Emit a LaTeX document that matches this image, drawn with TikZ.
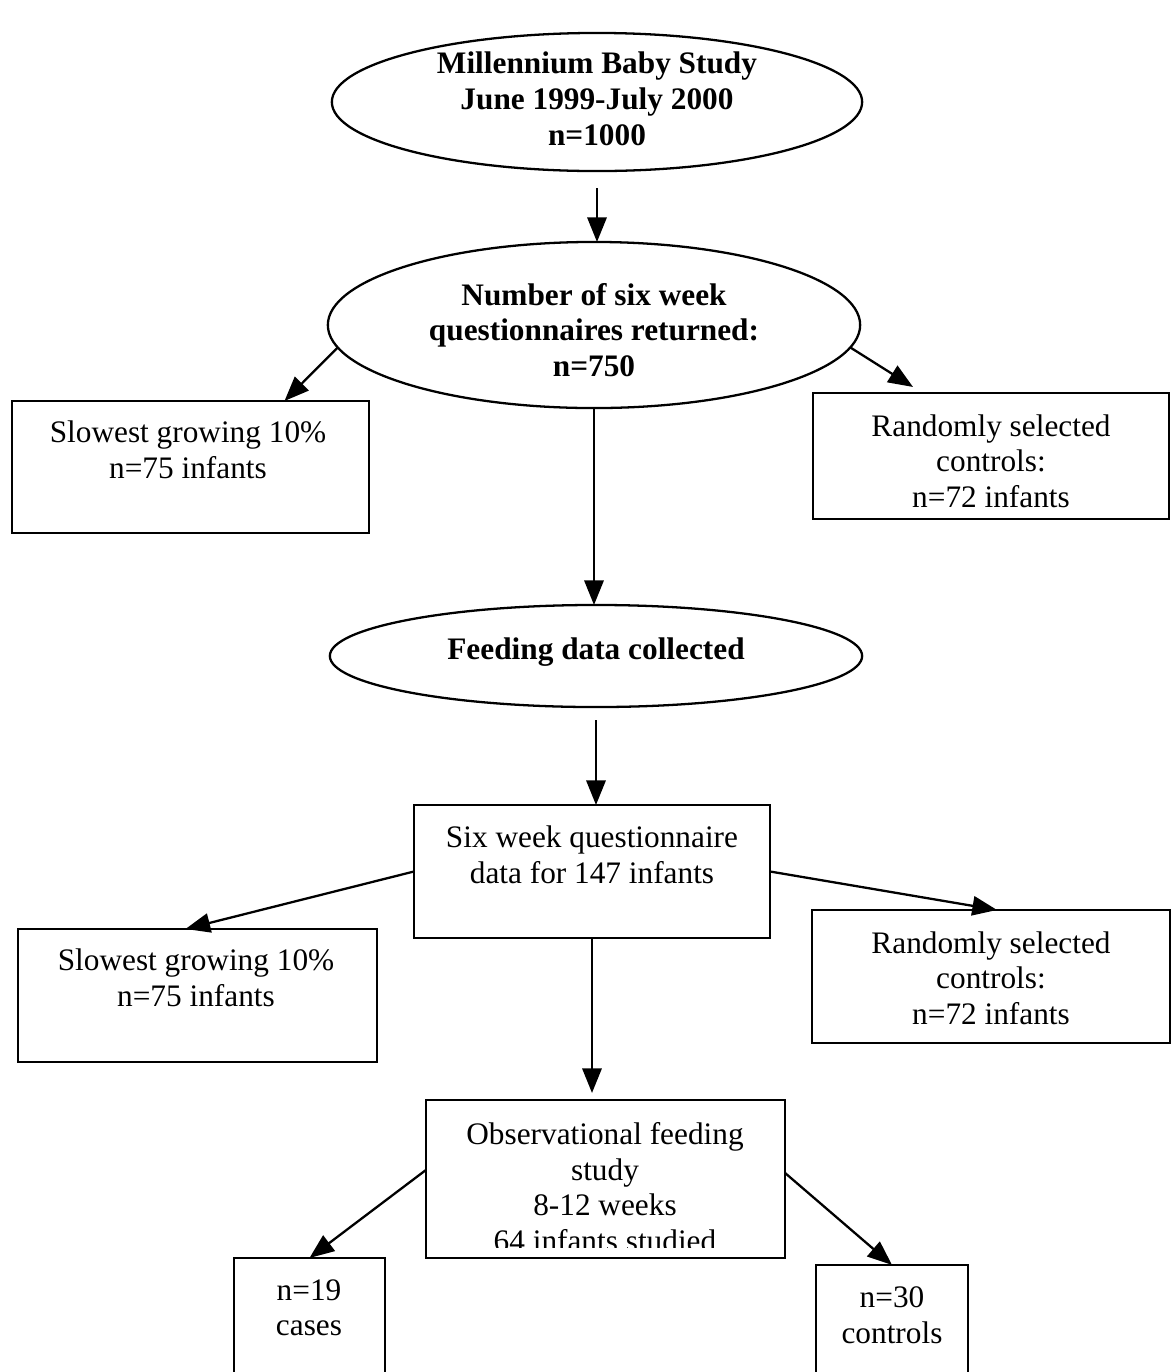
\documentclass[tikz,border=0pt]{standalone}
\usepackage{fontspec}
\setmainfont{Liberation Serif}
\usetikzlibrary{shapes.geometric,arrows.meta,calc}

\begin{document}
\begin{tikzpicture}
				[x=0.01cm,y=-0.01cm,
				every node/.style={inner sep=0pt, outer sep=0pt},
				oval/.style={ellipse, draw=black, line width=0.65pt},
				box/.style={rectangle, draw=black, line width=0.65pt},
				txt/.style={align=center, font=\fontsize{8.9}{10.1}\selectfont},
				bold/.style={align=center, font=\fontsize{8.9}{10.2}\selectfont\bfseries},
				arr/.style={-{Triangle[length=7pt,width=5.5pt]}, line width=0.65pt}]
				\useasboundingbox (0,0) rectangle (1172,1372);
				\clip (0,0) rectangle (1172,1372);

				\node[oval, minimum width=5.30cm, minimum height=1.38cm] (millen) at (597,102) {};
				\node[bold] (millentxt) at (597,99) {Millennium Baby Study\\June 1999-July 2000\\n=1000};

				\node[oval, minimum width=5.32cm, minimum height=1.66cm] (survey) at (594,325) {};
				\node[bold] (surveytxt) at (594,330) {Number of six week\\questionnaires returned:\\n=750};

				\node[oval, minimum width=5.32cm, minimum height=1.02cm] (feed) at (596,656) {};
				\node[bold] (feedtxt) at (596,652) {Feeding data collected};

				% first split
				\node[box, minimum width=3.57cm, minimum height=1.32cm] (slowA) at (190.5,467) {};
				\node[txt] (slowAtxt) at (188,450) {Slowest growing 10\%\\n=75 infants};
				\node[box, minimum width=3.56cm, minimum height=1.26cm] (randA) at (991,456) {};
				\node[txt] (randAtxt) at (991,461) {Randomly selected\\controls:\\n=72 infants};

				% second split
				\node[box, minimum width=3.56cm, minimum height=1.33cm] (six) at (592,871.5) {};
				\node[txt] (sixtxt) at (592,855) {Six week questionnaire\\data for 147 infants};
				\node[box, minimum width=3.59cm, minimum height=1.33cm] (slowB) at (197.5,995.5) {};
				\node[txt] (slowBtxt) at (196,978) {Slowest growing 10\%\\n=75 infants};
				\node[box, minimum width=3.58cm, minimum height=1.33cm] (randB) at (991,976.5) {};
				\node[txt] (randBtxt) at (991,978) {Randomly selected\\controls:\\n=72 infants};

				\node[box, minimum width=3.59cm, minimum height=1.58cm] (obs) at (605.5,1179) {};
				\begin{scope}
					\clip (426,1100) rectangle (785,1247); %last line cut off
					\node[txt] (obstxt) at (605,1187) {Observational feeding\\study\\8-12 weeks\\64 infants studied};
				\end{scope}
				\node[box, minimum width=1.51cm, minimum height=2.02cm] (cases) at (309.5,1359) {};
				\node[txt] (casestxt) at (309,1308) {n=19\\cases};
				\node[box, minimum width=1.52cm, minimum height=2.00cm] (ctrl) at (892,1365) {};
				\node[txt] (ctrltxt) at (892,1315) {n=30\\controls};

				\coordinate (slowAin) at ($(slowA.north)+(94,0)$);
				\coordinate (randAin) at ($(randA.north)+(-78,-6)$);
				\coordinate (slowBin) at ($(slowB.north)+(-12,0)$);
				\coordinate (randBin) at ($(randB.north)+(6,0)$);
				\coordinate (obsout1) at ($(obs.west)+(0,-9)$);
				\coordinate (obsout2) at ($(obs.east)+(0,-6)$);

				\draw[arr, shorten <=0.17cm] (millen.south) -- (millen.south |- survey.north);
				\draw[arr] (survey.south) -- (survey.south |- feed.north);
				\draw[arr, shorten <=0.13cm] (feed.south) -- (feed.south |- six.north);
				\draw[arr, shorten >=0.07cm] (six.south) -- (six.south |- obs.north);

				\foreach \from/\to in {survey.185/slowAin,survey.-5/randAin,six.west/slowBin,
				six.east/randBin,obsout1/cases.north,obsout2/ctrl.north}
				\draw[arr] (\from) -- (\to);
\end{tikzpicture}
\end{document}
